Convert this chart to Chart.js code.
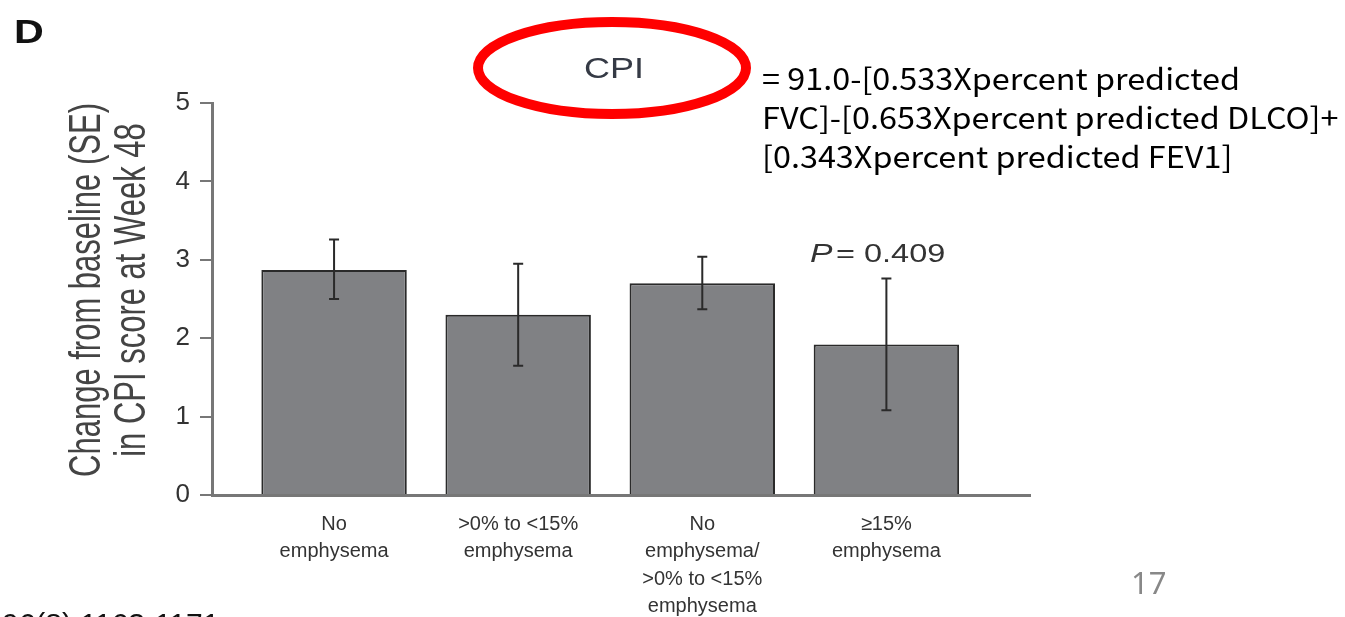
<!DOCTYPE html>
<html>
<head>
<meta charset="utf-8">
<script src="https://cdn.jsdelivr.net/npm/chart.js@4/dist/chart.umd.min.js"></script>
<style>
  html, body { margin: 0; padding: 0; background: #fff; }
  #wrap { width: 1345px; height: 617px; position: relative; }
</style>
</head>
<body>
<div id="wrap"><canvas id="cpi"></canvas></div>
<script>
// categories (multi-line labels)
const categories = [
  ["No", "emphysema"],
  [">0% to <15%", "emphysema"],
  ["No", "emphysema/", ">0% to <15%", "emphysema"],
  ["\u226515%", "emphysema"],
];
// change from baseline in CPI score, with SE bounds
const means = [2.87, 2.30, 2.70, 1.92];
const seLow = [2.50, 1.65, 2.37, 1.08];
const seHigh = [3.26, 2.95, 3.04, 2.76];
const yTicks = [0, 1, 2, 3, 4, 5];

const points = means.map((v, i) => ({ x: i + 1, y: v }));

// the figure in the slide is stretched sideways, so text is drawn wider
function wideText(ctx, str, x, y, sx, align) {
  ctx.save();
  ctx.translate(x, y);
  ctx.scale(sx, 1);
  ctx.textAlign = align || "left";
  ctx.fillText(str, 0, 0);
  ctx.restore();
}

// error bars drawn through the scales
const errorBars = {
  id: "errorBars",
  afterDatasetsDraw(chart) {
    const { ctx, scales } = chart;
    ctx.save();
    ctx.strokeStyle = "#2a2a2a";
    ctx.lineWidth = 2;
    means.forEach((v, i) => {
      const x = scales.x.getPixelForValue(i + 1);
      const y1 = scales.y.getPixelForValue(seHigh[i]);
      const y2 = scales.y.getPixelForValue(seLow[i]);
      ctx.beginPath();
      ctx.moveTo(x, y1); ctx.lineTo(x, y2);
      ctx.moveTo(x - 5, y1); ctx.lineTo(x + 5, y1);
      ctx.moveTo(x - 5, y2); ctx.lineTo(x + 5, y2);
      ctx.stroke();
    });
    ctx.restore();
  },
};

// panel letter, titles, equation and slide text
const annotations = {
  id: "annotations",
  afterDraw(chart) {
    const ctx = chart.ctx;
    ctx.save();
    ctx.textBaseline = "alphabetic";
    ctx.fillStyle = "#111";
    ctx.font = "bold 33px 'Liberation Sans'";
    wideText(ctx, "D", 14, 43, 1.25);

    // y title (rotated, stretched across)
    ctx.save();
    ctx.translate(100, 290);
    ctx.rotate(-Math.PI / 2);
    ctx.scale(1, 1.45);
    ctx.fillStyle = "#444";
    ctx.font = "31px 'Liberation Sans'";
    ctx.textAlign = "center";
    ctx.fillText("Change from baseline (SE)", 0, 0);
    ctx.fillText("in CPI score at Week 48", 0, 31);
    ctx.restore();

    // CPI + red ellipse
    ctx.fillStyle = "#353a45";
    ctx.font = "30px 'Liberation Sans'";
    wideText(ctx, "CPI", 614, 78, 1.2, "center");
    ctx.beginPath();
    ctx.ellipse(612, 68, 134, 46, 0, 0, Math.PI * 2);
    ctx.strokeStyle = "#f00";
    ctx.lineWidth = 10;
    ctx.stroke();

    // equation
    ctx.fillStyle = "#000";
    ctx.font = "30px 'Noto Sans CJK KR'";
    const eq = [
      "= 91.0-[0.533Xpercent predicted",
      "FVC]-[0.653Xpercent predicted DLCO]+",
      "[0.343Xpercent predicted FEV1]",
    ];
    const sx = 478 / ctx.measureText(eq[0]).width;
    eq.forEach((s, i) => wideText(ctx, s, 762, 90 + i * 39, sx));

    // p value
    ctx.fillStyle = "#333";
    ctx.font = "italic 25px 'Liberation Sans'";
    wideText(ctx, "P", 810, 262, 1.35);
    ctx.font = "25px 'Liberation Sans'";
    wideText(ctx, "= 0.409", 836, 262, 1.3);

    // page number and citation
    ctx.fillStyle = "#888";
    ctx.font = "31px 'Noto Sans'";
    ctx.fillText("17", 1131, 594);
    ctx.fillStyle = "#111";
    ctx.font = "30px 'Liberation Sans'";
    ctx.fillText("96(8):1163-1171", 2, 634);
    ctx.restore();
  },
};

new Chart(document.getElementById("cpi"), {
  type: "bar",
  data: {
    datasets: [
      {
        data: points,
        backgroundColor: "#808184",
        borderColor: "#2a2a2a",
        borderWidth: 2,
        barPercentage: 0.79,
        categoryPercentage: 1,
      },
    ],
  },
  options: {
    responsive: true,
    maintainAspectRatio: false,
    animation: false,
    layout: { padding: { top: 103, right: 315, left: 0, bottom: 0 } },
    plugins: { legend: { display: false }, tooltip: { enabled: false } },
    scales: {
      x: {
        type: "linear",
        offset: false,
        min: 0.337,
        max: 4.78,
        afterFit: (s) => { s.height = 122; },
        afterBuildTicks: (s) => { s.ticks = categories.map((c, i) => ({ value: i + 1 })); },
        grid: { display: false },
        border: { color: "#777", width: 3 },
        ticks: {
          color: "#333",
          font: { family: "Liberation Sans", size: 20, lineHeight: 1.36 },
          padding: 8,
          maxRotation: 0,
          autoSkip: false,
          callback: (v) => categories[v - 1],
        },
      },
      y: {
        min: 0,
        max: 5,
        afterFit: (s) => { s.width = 212; },
        afterBuildTicks: (s) => { s.ticks = yTicks.map((v) => ({ value: v })); },
        grid: { drawOnChartArea: false, tickLength: 12, color: "#777", lineWidth: 2 },
        border: { color: "#777", width: 3 },
        ticks: {
          color: "#333",
          font: { family: "Liberation Sans", size: 26 },
          padding: 10,
        },
      },
    },
  },
  plugins: [errorBars, annotations],
});
</script>
</body>
</html>
